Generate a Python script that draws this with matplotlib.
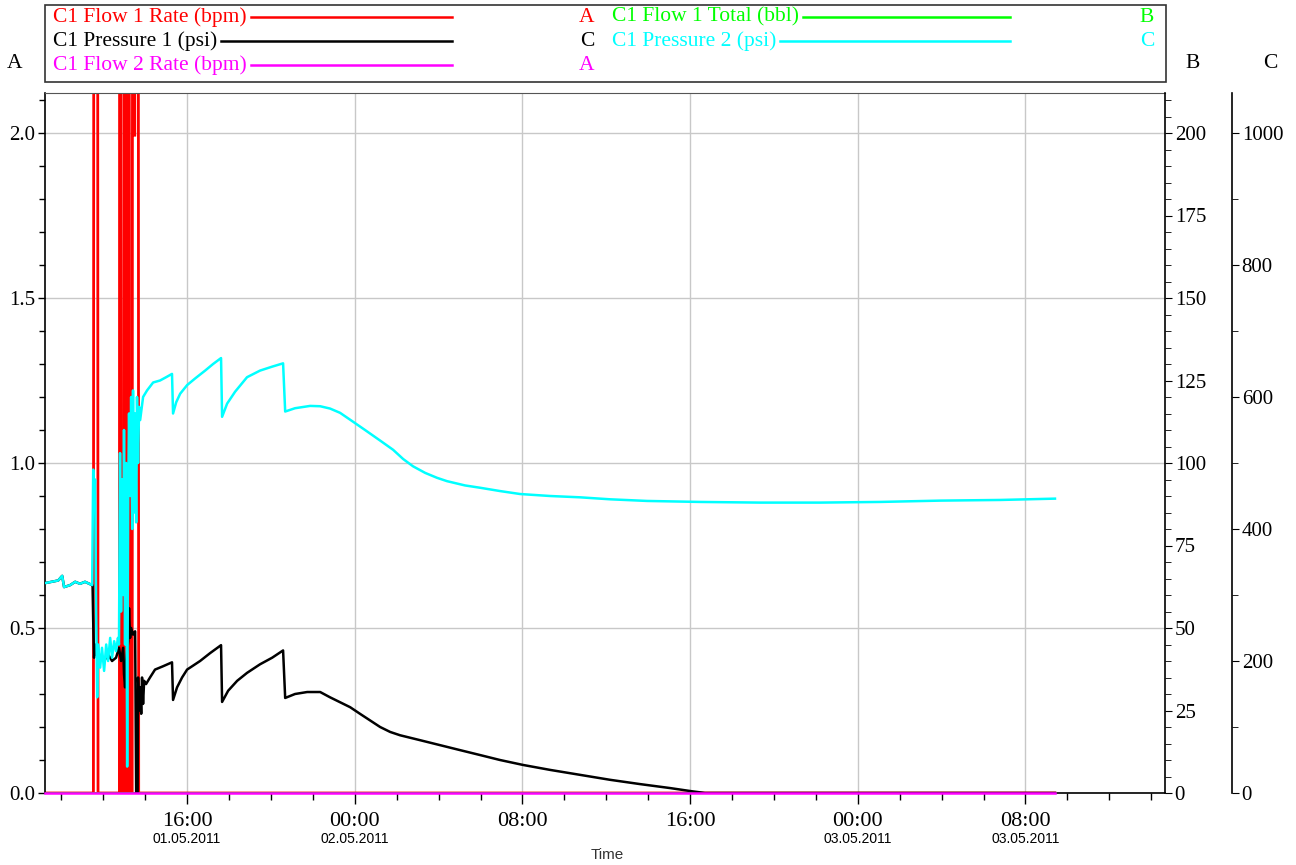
import numpy as np
import pandas as pd
import matplotlib
matplotlib.use("Agg")
import matplotlib.pyplot as plt
import matplotlib.dates as mdates
import matplotlib.transforms as mtransforms
from matplotlib.lines import Line2D
from matplotlib.patches import Rectangle
from matplotlib.ticker import MultipleLocator, FixedLocator, FormatStrFormatter, NullLocator

plt.rcParams['font.family'] = ['Liberation Serif', 'DejaVu Serif']

# ---------------- data (time in hours since 01.05.2011 00:00) ----------------
flow1_rate_t = [9.22, 11.53, 11.55, 11.73, 11.75, 12.77, 12.78, 12.82, 12.85, 12.96, 12.98,
                12.99, 13.04, 13.09, 13.14, 13.19, 13.23, 13.25, 13.26, 13.38, 13.39, 13.41,
                13.48, 13.50, 13.52, 13.67, 13.69, 57.41]
flow1_rate_v = [0, 0, 3, 3, 0, 0, 3, 3, 0, 0, 1.73,
                3, 0, 3, 0, 3, 3, 1.52, 0, 0, 1.94, 3,
                3, 1.99, 3, 3, 0, 0]

pressure2_t = [9.22, 9.85, 10.04, 10.13, 10.42, 10.66, 10.89, 11.13, 11.47, 11.52, 11.56, 11.61,
               11.66, 11.71, 11.75, 11.85, 11.94, 12.04, 12.14, 12.23, 12.33, 12.42, 12.52, 12.61,
               12.70, 12.75, 12.80, 12.85, 12.90, 12.95, 12.99, 13.04, 13.09, 13.14, 13.19, 13.23,
               13.28, 13.33, 13.38, 13.42, 13.47, 13.52, 13.57, 13.61, 13.66, 13.71, 13.76, 13.90,
               14.09, 14.38, 14.71, 15.00, 15.28, 15.33, 15.48, 15.67, 16.00, 16.38, 16.86, 17.24,
               17.62, 17.67, 17.91, 18.29, 18.86, 19.48, 20.06, 20.58, 20.68, 21.15, 21.87, 22.35,
               22.82, 23.30, 23.92, 24.49, 25.21, 25.83, 26.31, 26.78, 27.36, 27.93, 28.40, 29.26,
               29.98, 30.93, 31.89, 33.32, 34.75, 36.18, 37.95, 40.48, 43.34, 46.20, 49.06, 51.93,
               54.79, 57.41]
pressure2_v = [318, 322, 329, 312, 315, 320, 317, 320, 315, 490, 450, 475,
               275, 145, 225, 190, 220, 185, 225, 200, 235, 205, 230, 215,
               235, 225, 515, 275, 475, 300, 550, 225, 500, 40, 450, 575,
               450, 600, 400, 610, 425, 575, 410, 600, 500, 585, 565, 600,
               610, 622, 625, 630, 635, 575, 592, 605, 618, 628, 640, 650,
               659, 570, 590, 608, 630, 640, 646, 651, 578, 583, 586.5, 586,
               582.5, 576, 562.5, 550, 534, 520, 506, 495, 485, 477.5, 472.5, 466,
               462.5, 457.5, 453, 450, 448, 445, 442.5, 441, 440, 440, 441, 443,
               444, 446]

pressure1_t = [9.22, 9.85, 10.04, 10.13, 10.42, 10.66, 10.89, 11.13, 11.47, 11.49, 11.52, 11.56,
               11.61, 11.66, 11.71, 11.85, 12.04, 12.23, 12.42, 12.61, 12.75, 12.85, 12.95, 12.99,
               13.04, 13.09, 13.19, 13.23, 13.28, 13.33, 13.42, 13.52, 13.57, 13.64, 13.66, 13.71,
               13.76, 13.81, 13.85, 13.90, 13.95, 14.04, 14.23, 14.47, 14.85, 15.28, 15.33, 15.52,
               15.76, 16.00, 16.62, 17.10, 17.62, 17.67, 17.96, 18.39, 18.86, 19.48, 20.06, 20.58,
               20.68, 21.15, 21.73, 22.35, 22.82, 23.30, 23.78, 24.25, 24.73, 25.21, 25.69, 26.16,
               27.12, 28.07, 29.02, 29.98, 30.93, 32.03, 33.32, 34.75, 36.18, 37.61, 39.04, 40.00,
               40.71, 57.41]
pressure1_v = [318, 322, 329, 312, 315, 320, 317, 320, 315, 315, 260, 205,
               225, 210, 215, 205, 200, 210, 200, 205, 220, 200, 220, 180,
               160, 200, 230, 280, 235, 250, 240, 245, 0, 0, 175, 125,
               160, 120, 175, 135, 170, 165, 175, 187, 192, 198, 141, 160,
               175, 187, 200, 212, 224, 138, 155, 170, 182, 195, 205, 216,
               144, 150, 153, 153, 145, 137.5, 130, 120, 110, 100, 92.5, 87.5,
               80, 72.5, 65, 57.5, 50, 42.5, 35, 27.5, 20, 13.5, 7.5, 3,
               0, 0]

flow2_rate_t = [9.22, 57.41]
flow2_rate_v = [0, 0]

flow1_total_t = [9.22, 57.41]
flow1_total_v = [0, 0]

tick_hours = [16, 24, 32, 40, 48, 56]
tick_time_labels = ['16:00', '00:00', '08:00', '16:00', '00:00', '08:00']
tick_date_labels = ['01.05.2011', '02.05.2011', '', '', '03.05.2011', '03.05.2011']

legend_labels = ['C1 Flow 1 Rate (bpm)', 'C1 Pressure 1 (psi)', 'C1 Flow 2 Rate (bpm)',
                 'C1 Flow 1 Total (bbl)', 'C1 Pressure 2 (psi)']
legend_axis = ['A', 'C', 'A', 'B', 'C']

# ---------------- styles ----------------
RED, BLACK, MAGENTA, GREEN, CYAN = '#ff0000', '#000000', '#ff00ff', '#00ff00', '#00ffff'
legend_colors = [RED, BLACK, MAGENTA, GREEN, CYAN]
W, H = 1296, 865
T0 = pd.Timestamp('2011-05-01 00:00')


def to_dt(hours):
    return mdates.date2num(T0 + pd.to_timedelta(np.asarray(hours, dtype=float), unit='h'))


def fx(px):
    return px / W


def fy(py):
    return 1 - py / H


fig = plt.figure(figsize=(W / 100, H / 100), dpi=100)
fig.patch.set_facecolor('white')

L, R, T, B = 45, 1165, 93, 793
ax = fig.add_axes([fx(L), fy(B), (R - L) / W, (B - T) / H])
axB = ax.twinx()
axC = ax.twinx()
axM = ax.twinx()

ax.set_zorder(1)
axB.set_zorder(2)
axC.set_zorder(3)
axM.set_zorder(4)
for a in (axB, axC, axM):
    a.patch.set_visible(False)

A_MAX = 2.0 + 40 / 330
ax.set_ylim(0, A_MAX)
axM.set_ylim(0, A_MAX)
axB.set_ylim(0, A_MAX * 100)
axC.set_ylim(0, A_MAX * 500)

xlim = to_dt([9.22, 62.66])
for a in (ax, axB, axC, axM):
    a.set_xlim(*xlim)

LW = 1.8
ax.plot(to_dt(flow1_rate_t), flow1_rate_v, color=RED, lw=2.0, solid_joinstyle='miter')
axB.plot(to_dt(flow1_total_t), flow1_total_v, color=GREEN, lw=LW)
axC.plot(to_dt(pressure1_t), pressure1_v, color=BLACK, lw=LW, zorder=2)
axC.plot(to_dt(pressure2_t), pressure2_v, color=CYAN, lw=LW, zorder=3)
axM.plot(to_dt(flow2_rate_t), flow2_rate_v, color=MAGENTA, lw=LW, clip_on=False)

# grid
ax.grid(True, which='major', color='#c8c8c8', lw=1.0)
ax.set_axisbelow(True)

FS = 15
# A axis
ax.yaxis.set_major_locator(MultipleLocator(0.5))
ax.yaxis.set_minor_locator(MultipleLocator(0.1))
ax.yaxis.set_major_formatter(FormatStrFormatter('%.1f'))
ax.tick_params(axis='y', which='major', direction='out', length=5, width=1, labelsize=FS, pad=2)
ax.tick_params(axis='y', which='minor', direction='out', length=4, width=1)
ax.tick_params(axis='y', right=False, which='both')

# X axis
ax.xaxis.set_major_locator(FixedLocator(to_dt(tick_hours)))
ax.set_xticklabels(tick_time_labels)
ax.xaxis.set_minor_locator(FixedLocator(to_dt(np.arange(10, 64, 2))))
ax.tick_params(axis='x', which='major', direction='out', length=8, width=1, labelsize=FS + 1, pad=6)
ax.tick_params(axis='x', which='minor', direction='out', length=5, width=1)
blend = mtransforms.blended_transform_factory(ax.transData, fig.transFigure)
for h, d in zip(to_dt(tick_hours), tick_date_labels):
    if d:
        ax.text(h, fy(839), d, transform=blend, ha='center', va='center', fontsize=10,
                family=['Liberation Sans Narrow', 'Liberation Sans', 'DejaVu Sans'])
fig.text(fx(607), fy(855), 'Time', ha='center', va='center', fontsize=11,
         family=['Liberation Sans Narrow', 'Liberation Sans', 'DejaVu Sans'], color='#333333')

for s in ('left', 'bottom'):
    ax.spines[s].set_color('black')
    ax.spines[s].set_linewidth(1.2)
ax.spines['top'].set_color('#555555')
ax.spines['right'].set_visible(False)

# B axis
for s in ('left', 'top', 'bottom'):
    axB.spines[s].set_visible(False)
axB.spines['right'].set_color('black')
axB.spines['right'].set_linewidth(1.2)
axB.yaxis.set_major_locator(MultipleLocator(25))
axB.yaxis.set_minor_locator(MultipleLocator(5))
axB.tick_params(axis='y', which='major', direction='out', length=5, labelsize=FS, pad=2)
axB.tick_params(axis='y', which='minor', direction='out', length=4)
axB.tick_params(axis='x', which='both', bottom=False, top=False, labelbottom=False)

# C axis
for s in ('left', 'top', 'bottom'):
    axC.spines[s].set_visible(False)
axC.spines['right'].set_position(('axes', (1232 - L) / (R - L)))
axC.spines['right'].set_color('black')
axC.spines['right'].set_linewidth(1.2)
axC.yaxis.set_major_locator(MultipleLocator(200))
axC.yaxis.set_minor_locator(MultipleLocator(100))
axC.tick_params(axis='y', which='major', direction='out', length=5, labelsize=FS, pad=2)
axC.tick_params(axis='y', which='minor', direction='out', length=4)
axC.tick_params(axis='x', which='both', bottom=False, top=False, labelbottom=False)

# magenta helper axis: invisible
for s in axM.spines.values():
    s.set_visible(False)
axM.yaxis.set_major_locator(NullLocator())
axM.yaxis.set_minor_locator(NullLocator())
axM.tick_params(axis='x', which='both', bottom=False, top=False, labelbottom=False)

# axis letters
for txt, px in (('A', 15), ('B', 1193), ('C', 1270)):
    fig.text(fx(px), fy(63), txt, ha='center', va='center', fontsize=FS + 0.5)

# legend box
fig.patches.append(Rectangle((fx(45), fy(82)), (1166 - 45) / W, (82 - 5) / H,
                             transform=fig.transFigure, fill=False, edgecolor='#333333', lw=1.2))
col_text_x = [53, 612]
col_line_end = [452, 1010]
col_letter_x = [587, 1147]
row_y = [17, 41, 65]
slots = [(0, 0), (0, 1), (0, 2), (1, 0), (1, 1)]
texts = []
for (c, r), lab, col, let in zip(slots, legend_labels, legend_colors, legend_axis):
    t = fig.text(fx(col_text_x[c]), fy(row_y[r]), lab, ha='left', va='center',
                 fontsize=FS + 0.5, color=col)
    fig.text(fx(col_letter_x[c]), fy(row_y[r]), let, ha='center', va='center',
             fontsize=FS + 0.5, color=col)
    texts.append((t, c, r, col))

fig.canvas.draw()
renderer = fig.canvas.get_renderer()
for t, c, r, col in texts:
    bb = t.get_window_extent(renderer)
    x0 = bb.x1 + 4
    fig.lines.append(Line2D([x0 / W, fx(col_line_end[c])], [fy(row_y[r]), fy(row_y[r])],
                            transform=fig.transFigure, color=col, lw=LW))

fig.savefig('out.png', dpi=100)
